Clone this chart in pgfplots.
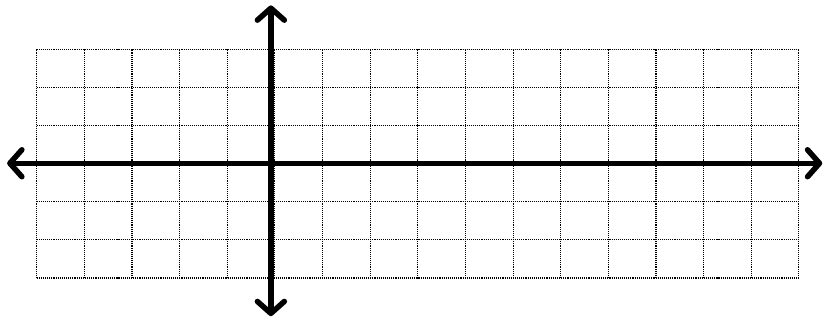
\documentclass[border=0pt]{standalone}
\usepackage{pgfplots}
\pgfplotsset{compat=1.18}
\usetikzlibrary{arrows.meta}

\begin{document}
\begin{tikzpicture}
\begin{axis}[
    scale only axis,
    width=763pt,
    height=229pt,
    xmin=-5, xmax=11,
    ymin=-3, ymax=3,
    xtick distance=1,
    ytick distance=1,
    xticklabels={}, yticklabels={},
    major tick length=0pt,
    axis line style={draw=none},
    grid=major,
    grid style={black, line width=1.1pt, dash pattern=on 1.1pt off 1pt},
    clip=false,
]
% invisible frame for the page size
\path (axis cs:-5.770,4.292) rectangle (axis cs:11.540,-4.171);
% x axis
\addplot[black, line width=5.5pt, line cap=round,
  {Straight Barb[round, length=12pt, width=27pt]}-{Straight Barb[round, length=12pt, width=27pt]}]
  coordinates {(-5.62,0.01) (11.49,0.01)};
% y axis
\addplot[black, line width=5.5pt, line cap=round,
  {Straight Barb[round, length=12pt, width=27pt]}-{Straight Barb[round, length=12pt, width=27pt]}]
  coordinates {(-0.084,-4.0) (-0.084,4.15)};
\end{axis}
\end{tikzpicture}
\end{document}
